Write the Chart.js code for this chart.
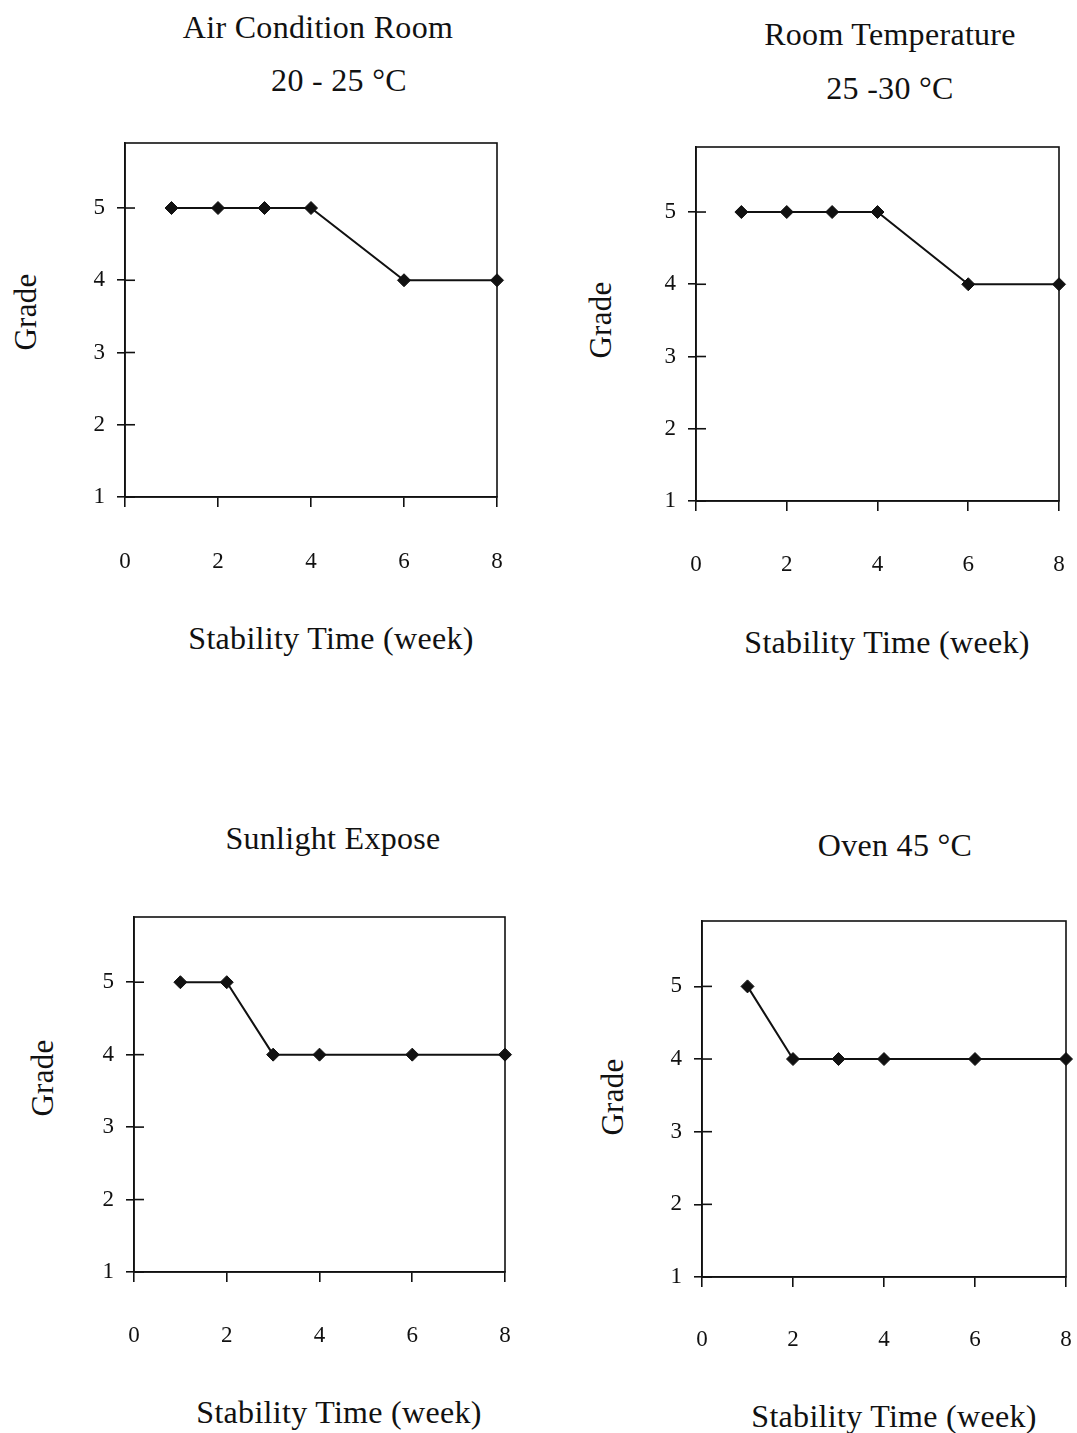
<!DOCTYPE html>
<html>
<head>
<meta charset="utf-8">
<script src="https://cdn.jsdelivr.net/npm/chart.js@4/dist/chart.umd.min.js"></script>
<style>
  html, body { margin: 0; padding: 0; background: #fff; }
  body { width: 1077px; height: 1433px; position: relative; overflow: hidden; font-family: 'Liberation Serif', 'Times New Roman', serif; color: #111; }
  .t { position: absolute; transform: translate(-50%, -50%); white-space: nowrap; font-size: 32px; letter-spacing: 0.3px; line-height: 1; }
  .xt { font-size: 32px; letter-spacing: 0.3px; }
  .yt { font-size: 31px; transform: translate(-50%, -50%) rotate(-90deg); }
  canvas { position: absolute; }
</style>
</head>
<body>
<script>
// ---- data ----
const weeks = [1, 2, 3, 4, 6, 8];
const gradeAirCondition = [5, 5, 5, 5, 4, 4];
const gradeRoomTemp = [5, 5, 5, 5, 4, 4];
const gradeSunlight = [5, 5, 4, 4, 4, 4];
const gradeOven = [5, 4, 4, 4, 4, 4];
const xTickValues = [0, 2, 4, 6, 8];
const yTickValues = [1, 2, 3, 4, 5];
const titleAirCondition = ['Air Condition Room', '20 - 25 °C'];
const titleRoomTemp = ['Room Temperature', '25 -30 °C'];
const titleSunlight = ['Sunlight Expose'];
const titleOven = ['Oven 45 °C'];
const xAxisTitle = 'Stability Time (week)';
const yAxisTitle = 'Grade';

// ---- layout (styling only) ----
const panels = [
  { values: gradeAirCondition, title: titleAirCondition,
    titlePos: [[318, 27], [339, 80]],
    plot: { l: 125, t: 143, r: 497, b: 497 }, gradePos: [25, 312], xTitlePos: [331, 638], tickY: 562 },
  { values: gradeRoomTemp, title: titleRoomTemp,
    titlePos: [[890, 34], [890, 88]],
    plot: { l: 696, t: 147, r: 1059, b: 501 }, gradePos: [600, 320], xTitlePos: [887, 642], tickY: 565 },
  { values: gradeSunlight, title: titleSunlight,
    titlePos: [[333, 838]],
    plot: { l: 134, t: 917, r: 505, b: 1272 }, gradePos: [42, 1078], xTitlePos: [339, 1412], tickY: 1336 },
  { values: gradeOven, title: titleOven,
    titlePos: [[895, 845]],
    plot: { l: 702, t: 921, r: 1066, b: 1277 }, gradePos: [612, 1097], xTitlePos: [894, 1416], tickY: 1340 }
];

const INK = '#111';
const FONT = "'Liberation Serif', 'Times New Roman', serif";
const tickFont = 23;

function addText(txt, pos, cls) {
  const d = document.createElement('div');
  d.className = 't ' + (cls || '');
  d.textContent = txt;
  d.style.left = pos[0] + 'px';
  d.style.top = pos[1] + 'px';
  document.body.appendChild(d);
}

const framePlugin = {
  id: 'frame',
  beforeDatasetsDraw(chart) {
    const { ctx, chartArea: a, scales } = chart;
    ctx.save();
    ctx.strokeStyle = INK;
    ctx.lineWidth = 1.6;
    ctx.strokeRect(a.left, a.top, a.right - a.left, a.bottom - a.top);
    // inner part of the y tick marks (they cross the axis)
    const y = scales.y;
    y.ticks.forEach(t => {
      const py = y.getPixelForValue(t.value);
      ctx.beginPath();
      ctx.moveTo(a.left, py);
      ctx.lineTo(a.left + 10, py);
      ctx.stroke();
    });
    ctx.restore();
  }
};

panels.forEach(p => {
  p.title.forEach((txt, i) => addText(txt, p.titlePos[i]));
  addText(xAxisTitle, p.xTitlePos, 'xt');
  addText(yAxisTitle, p.gradePos, 'yt');

  const padTop = 12, padRight = 16;
  const yAxisWidth = 50;
  const cLeft = p.plot.l - yAxisWidth;
  const cTop = p.plot.t - padTop;
  const cRight = p.plot.r + padRight;
  const cBottom = p.tickY + 20;
  const W = cRight - cLeft, H = cBottom - cTop;
  const xAxisHeight = cBottom - p.plot.b;
  const tickLenX = 10;
  const xTickPad = Math.round(p.tickY - p.plot.b - tickLenX - tickFont * 0.6);

  const cv = document.createElement('canvas');
  cv.style.left = cLeft + 'px';
  cv.style.top = cTop + 'px';
  cv.style.width = W + 'px';
  cv.style.height = H + 'px';
  cv.width = W; cv.height = H;
  document.body.appendChild(cv);

  new Chart(cv, {
    type: 'line',
    data: {
      datasets: [{
        data: weeks.map((w, i) => ({ x: w, y: p.values[i] })),
        borderColor: INK,
        backgroundColor: INK,
        borderWidth: 2,
        pointStyle: 'rectRot',
        pointRadius: 6.5,
        pointBorderWidth: 1,
        pointBackgroundColor: INK,
        pointBorderColor: INK,
        tension: 0,
        clip: false
      }]
    },
    options: {
      responsive: false,
      animation: false,
      devicePixelRatio: 1,
      layout: { padding: { top: padTop, right: padRight, left: 0, bottom: 0 } },
      plugins: { legend: { display: false }, tooltip: { enabled: false }, title: { display: false } },
      scales: {
        x: {
          type: 'linear', min: 0, max: 8,
          afterBuildTicks: s => { s.ticks = xTickValues.map(v => ({ value: v })); },
          afterFit: s => { s.height = xAxisHeight; s.paddingLeft = 0; s.paddingRight = 0; },
          grid: { drawOnChartArea: false, drawTicks: true, tickLength: tickLenX, color: INK, lineWidth: 1.6 },
          border: { display: true, color: INK, width: 1.6 },
          ticks: { color: INK, font: { family: FONT, size: tickFont }, padding: xTickPad, maxRotation: 0, autoSkip: false },
          title: { display: false }
        },
        y: {
          type: 'linear', min: 1, max: 5.9,
          afterBuildTicks: s => { s.ticks = yTickValues.map(v => ({ value: v })); },
          afterFit: s => { s.width = yAxisWidth; s.paddingTop = 0; s.paddingBottom = 0; },
          grid: { drawOnChartArea: false, drawTicks: true, tickLength: 8, color: INK, lineWidth: 1.6 },
          border: { display: true, color: INK, width: 1.6 },
          ticks: { color: INK, font: { family: FONT, size: tickFont }, padding: 12 },
          title: { display: false }
        }
      }
    },
    plugins: [framePlugin]
  });
});
</script>
</body>
</html>
